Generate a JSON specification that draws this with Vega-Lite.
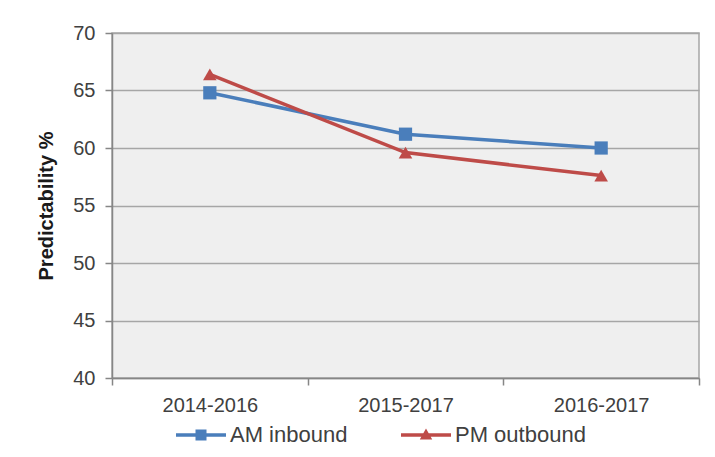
{
  "$schema": "https://vega.github.io/schema/vega-lite/v6.json",
  "width": 587,
  "height": 345,
  "autosize": "none",
  "padding": {"left": 112, "top": 33, "right": 16, "bottom": 79},
  "background": "white",
  "config": {
    "font": "Liberation Sans",
    "view": {"fill": "#efefef", "stroke": "#a6a6a6", "strokeWidth": 1.5},
    "axis": {
      "labelFont": "Liberation Sans",
      "labelColor": "#404040",
      "titleColor": "#1a1a1a",
      "domainColor": "#868686",
      "domainWidth": 1.5,
      "tickColor": "#868686",
      "tickWidth": 1.5
    }
  },
  "data": {
    "values": [
      {"period": "2014-2016", "series": "AM inbound", "pct": 64.8},
      {"period": "2015-2017", "series": "AM inbound", "pct": 61.2},
      {"period": "2016-2017", "series": "AM inbound", "pct": 60.0},
      {"period": "2014-2016", "series": "PM outbound", "pct": 66.4},
      {"period": "2015-2017", "series": "PM outbound", "pct": 59.6},
      {"period": "2016-2017", "series": "PM outbound", "pct": 57.6}
    ]
  },
  "encoding": {
    "x": {
      "field": "period",
      "type": "nominal",
      "sort": null,
      "scale": {"paddingInner": 0, "paddingOuter": 0},
      "axis": {
        "title": null,
        "labelAngle": 0,
        "labelFontSize": 20,
        "tickBand": "extent",
        "tickSize": 7,
        "labelPadding": 10,
        "grid": false
      }
    },
    "y": {
      "field": "pct",
      "type": "quantitative",
      "scale": {"domain": [40, 70], "nice": false, "zero": false},
      "axis": {
        "title": "Predictability %",
        "titleFontSize": 20,
        "titleFontWeight": "bold",
        "titlePadding": 16,
        "values": [40, 45, 50, 55, 60, 65, 70],
        "labelFontSize": 20,
        "labelPadding": 10,
        "tickSize": 7,
        "grid": true,
        "gridColor": "#a6a6a6",
        "gridWidth": 1.5
      }
    },
    "color": {
      "field": "series",
      "type": "nominal",
      "scale": {"domain": ["AM inbound", "PM outbound"], "range": ["#4a7ebb", "#be4b48"]},
      "legend": {
        "title": null,
        "orient": "none",
        "direction": "horizontal",
        "legendX": 64,
        "legendY": 377,
        "labelFontSize": 22,
        "labelColor": "#404040",
        "labelOffset": 4,
        "columnPadding": 53,
        "symbolSize": 2500,
        "symbolStrokeWidth": 0,
        "encode": {
          "symbols": {
            "update": {
              "shape": {"signal": "datum.value === 'AM inbound' ? 'M-1,-0.07H1V0.07H-1Z M-0.22,-0.22H0.22V0.22H-0.22Z' : 'M-1,-0.07H1V0.07H-1Z M0,-0.26L0.25,0.18H-0.25Z'"},
              "fill": {"signal": "scale('color', datum.value)"}
            }
          }
        }
      }
    }
  },
  "layer": [
    {"mark": {"type": "line", "strokeWidth": 3.5}},
    {
      "transform": [{"filter": "datum.series === 'AM inbound'"}],
      "mark": {"type": "point", "filled": true, "opacity": 1, "shape": "square", "size": 175}
    },
    {
      "transform": [{"filter": "datum.series === 'PM outbound'"}],
      "mark": {"type": "point", "filled": true, "opacity": 1, "shape": "triangle-up", "size": 185}
    }
  ]
}
